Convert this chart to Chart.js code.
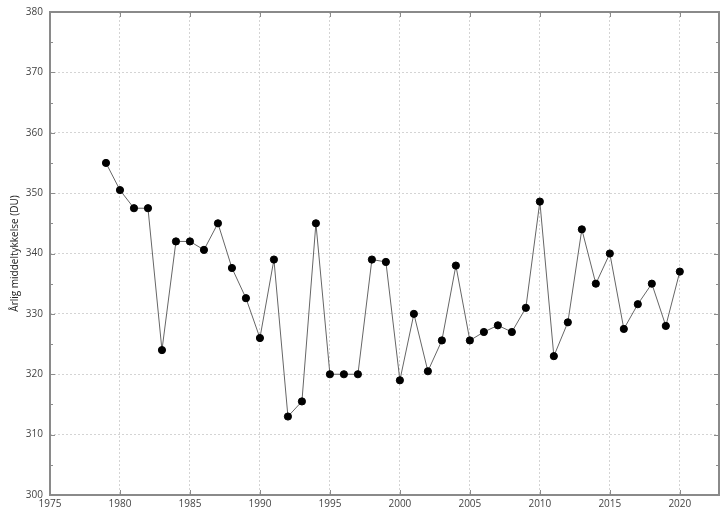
<!DOCTYPE html>
<html>
<head>
<meta charset="utf-8">
<script src="https://cdn.jsdelivr.net/npm/chart.js@4"></script>
<style>
  html, body { margin: 0; padding: 0; background: #fff; }
  #wrap { width: 720px; height: 510px; }
</style>
</head>
<body>
<div id="wrap"><canvas id="ozone"></canvas></div>
<script>
/* globals Chart:false */
const years = [1979, 1980, 1981, 1982, 1983, 1984, 1985, 1986, 1987, 1988, 1989, 1990,
  1991, 1992, 1993, 1994, 1995, 1996, 1997, 1998, 1999, 2000, 2001, 2002, 2003, 2004,
  2005, 2006, 2007, 2008, 2009, 2010, 2011, 2012, 2013, 2014, 2015, 2016, 2017, 2018,
  2019, 2020];
const thickness = [355, 350.5, 347.5, 347.5, 324, 342, 342, 340.6, 345, 337.6, 332.6, 326,
  339, 313, 315.5, 345, 320, 320, 320, 339, 338.6, 319, 330, 320.5, 325.6, 338,
  325.6, 327, 328.1, 327, 331, 348.6, 323, 328.6, 344, 335, 340, 327.5, 331.6, 335,
  328, 337];
const xTicks = [1975, 1980, 1985, 1990, 1995, 2000, 2005, 2010, 2015, 2020];
const yTitle = 'Årlig middeltykkelse (DU)';

const textColor = '#444';
const fontFamily = '"Open Sans", "DejaVu Sans", sans-serif';

// frame + inward tick marks like the original plot
const frameTicks = {
  id: 'frameTicks',
  afterDraw(chart) {
    const {ctx, chartArea: a, scales} = chart;
    ctx.save();
    ctx.strokeStyle = '#8c8c8c';
    ctx.lineWidth = 1;
    ctx.beginPath();
    scales.y.ticks.forEach(t => {
      const py = Math.round(scales.y.getPixelForValue(t.value)) + 0.5;
      const len = t.value % 10 === 0 ? 5 : 3;
      ctx.moveTo(a.left, py); ctx.lineTo(a.left + len, py);
      ctx.moveTo(a.right, py); ctx.lineTo(a.right - len, py);
    });
    scales.x.ticks.forEach(t => {
      const px = Math.round(scales.x.getPixelForValue(t.value)) + 0.5;
      ctx.moveTo(px, a.bottom); ctx.lineTo(px, a.bottom - 5);
      ctx.moveTo(px, a.top); ctx.lineTo(px, a.top + 5);
    });
    ctx.stroke();
    ctx.lineWidth = 2;
    ctx.strokeStyle = '#8a8a8a';
    ctx.strokeRect(a.left, a.top, a.right - a.left, a.bottom - a.top);
    ctx.restore();
  }
};

new Chart(document.getElementById('ozone'), {
  type: 'line',
  data: {
    labels: years,
    datasets: [{
      data: years.map((y, i) => ({x: y, y: thickness[i]})),
      borderColor: '#666',
      borderWidth: 1,
      pointRadius: 3.6,
      pointBackgroundColor: '#000',
      pointBorderColor: '#000',
      pointBorderWidth: 1,
      tension: 0
    }]
  },
  options: {
    responsive: true,
    maintainAspectRatio: false,
    animation: false,
    layout: { autoPadding: false, padding: { top: 12, right: 1, left: 0, bottom: 0 } },
    plugins: { legend: { display: false }, tooltip: { enabled: false } },
    scales: {
      x: {
        type: 'linear',
        min: 1975,
        max: 2022.8,
        afterBuildTicks: s => { s.ticks = xTicks.map(v => ({value: v})); },
        afterFit: s => { s.height = 15; s.paddingLeft = 0; s.paddingRight = 0; },
        grid: {
          color: c => (c.tick && c.tick.value > 1975) ? '#d4d4d4' : 'transparent',
          drawTicks: false
        },
        border: { display: false, dash: [2, 2] },
        ticks: {
          autoSkip: false,
          maxRotation: 0,
          padding: 3,
          color: textColor,
          font: { family: fontFamily, size: 10 },
          callback: v => String(v)
        }
      },
      y: {
        min: 300,
        max: 380,
        afterFit: s => { s.width = 50; s.paddingTop = 0; s.paddingBottom = 0; },
        grid: {
          color: c => (c.tick && c.tick.value % 10 === 0 && c.tick.value > 300 && c.tick.value < 380) ? '#d4d4d4' : 'transparent',
          drawTicks: false
        },
        border: { display: false, dash: [2, 2] },
        ticks: {
          stepSize: 5,
          autoSkip: false,
          padding: 7,
          color: textColor,
          font: { family: fontFamily, size: 10 },
          callback: v => (v % 10 === 0 ? String(v) : '')
        },
        title: {
          display: true,
          text: yTitle,
          color: '#222',
          padding: { top: 9, bottom: 0 },
          font: { family: fontFamily, size: 10 }
        }
      }
    }
  },
  plugins: [frameTicks]
});
</script>
</body>
</html>
